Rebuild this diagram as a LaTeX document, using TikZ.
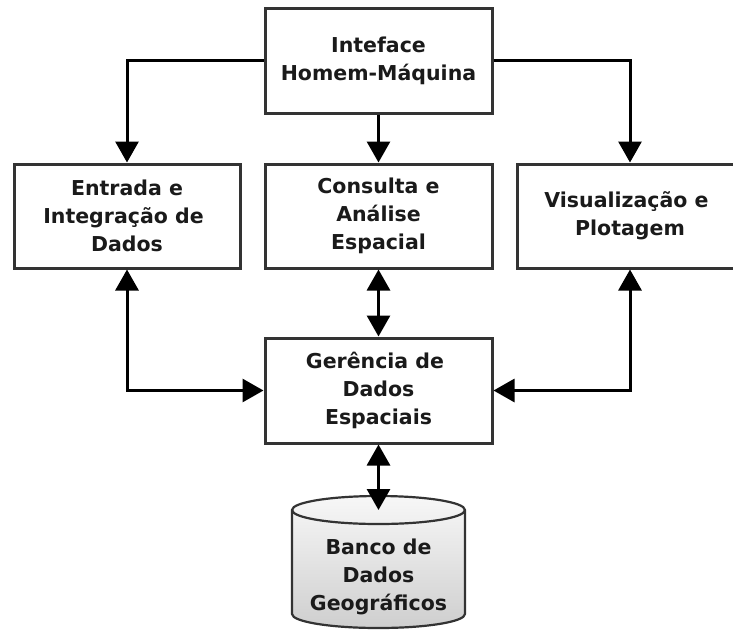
\documentclass[tikz,border=0pt]{standalone}
\usepackage{fontspec}
\setmainfont{DejaVu Sans}
\usetikzlibrary{arrows.meta}
\definecolor{boxline}{HTML}{333333}
\definecolor{txt}{HTML}{1A1A1A}
\tikzset{
  blk/.style={draw=boxline, line width=3pt, fill=white, rectangle, align=center,
    text=txt, font=\fontsize{20.5}{28}\selectfont\bfseries, inner sep=0pt},
  conn/.style={draw=black, line width=3pt, -{Triangle[length=21pt,width=23pt]}},
  bconn/.style={draw=black, line width=3pt, {Triangle[length=21pt,width=23pt]}-{Triangle[length=21pt,width=23pt]}},
}
\begin{document}
\begin{tikzpicture}[x=1pt,y=-1pt]
\clip (0,0) rectangle (733,630);
\fill[white] (0,0) rectangle (733,630);
% boxes
\node[blk, minimum width=227pt, minimum height=105pt] (top) at (378.5,60.5) {Inteface\\Homem-Máquina};
\node[blk, minimum width=226pt, minimum height=104pt] (left) at (127,216) {Entrada e\\Integração de\phantom{i}\\Dados};
\node[blk, minimum width=227pt, minimum height=104pt] (mid) at (378.5,216) {Consulta e\\Análise\\Espacial};
\node[blk, minimum width=226pt, minimum height=104pt] (right) at (630,216) {Visualização e\phantom{i}\\Plotagem};
\node[blk, minimum width=227pt, minimum height=105pt] (ger) at (378.5,390.5) {Gerência de\phantom{i}\\Dados\\Espaciais};
% cylinder
\shade[top color=gray!6, bottom color=gray!38, draw=boxline, line width=2.2pt]
  (292,510) -- (292,614) arc[start angle=180, end angle=360, x radius=86.5pt, y radius=14pt]
  -- (465,510) arc[start angle=0, end angle=180, x radius=86.5pt, y radius=14pt] -- cycle;
\draw[draw=boxline, line width=2.2pt] (292,510) arc[start angle=180, end angle=360, x radius=86.5pt, y radius=14pt];
\coordinate (dbtop) at (378.5,510);
\node[align=center, text=txt, font=\fontsize{20.5}{28}\selectfont\bfseries, inner sep=0pt] (db) at (378.5,577) {Banco de\\Dados\\Geográficos};
% connectors
\draw[conn] (top.west) -| (left.north);
\draw[conn] (top.south) -- (mid.north);
\draw[conn] (top.east) -| (right.north);
\draw[bconn] (left.south) |- (ger.west);
\draw[bconn] (right.south) |- (ger.east);
\draw[bconn] (mid.south) -- (ger.north);
\draw[bconn] (ger.south) -- (dbtop);
\end{tikzpicture}
\end{document}
